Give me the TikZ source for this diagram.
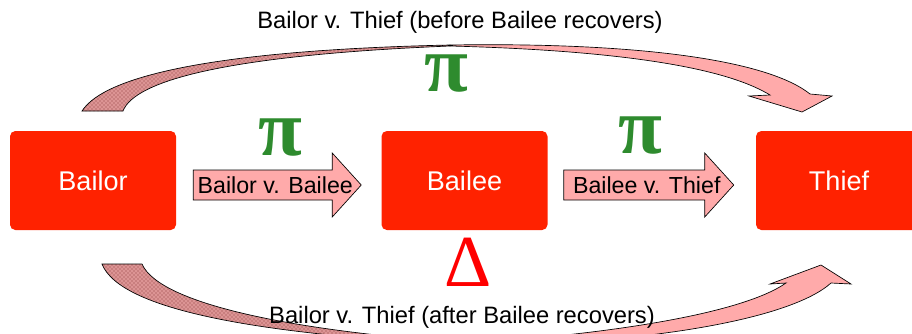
\documentclass[tikz,border=0pt]{standalone}
\usepackage{fontspec}
\setmainfont{Liberation Sans}
\newfontfamily\symbolfont{Liberation Serif}
\usetikzlibrary{calc,patterns}

\definecolor{partyred}{HTML}{FF2200}
\definecolor{arrowpink}{HTML}{FFAAAA}
\definecolor{backpink}{HTML}{DC9494}
\definecolor{backdots}{HTML}{8C3A3A}
\definecolor{pigreen}{HTML}{2E8B2E}

\tikzset{
	party/.style={fill=partyred,text=white,rounded corners=4pt,minimum width=124.5pt,
		minimum height=74.25pt,inner sep=0pt,font=\fontsize{20.3}{24}\selectfont},
	claim/.style={fill=arrowpink,draw=black,line width=0.5pt,line join=miter},
	claimtext/.style={inner sep=0pt,font=\fontsize{17.4}{20}\selectfont},
	backside/.style={draw=black,line width=0.5pt,preaction={fill=backpink},
		pattern=crosshatch dots,pattern color=backdots},
	caption/.style={inner sep=0pt,anchor=base,font=\fontsize{17.8}{21}\selectfont},
	pisign/.style={text=pigreen,inner sep=0pt,font=\symbolfont\bfseries\fontsize{60}{60}\selectfont},
	losssign/.style={text=red,inner sep=0pt,font=\symbolfont\fontsize{55}{55}\selectfont}
}

% block arrow from tail to tip: name, tail, tip, label
\newcommand{\claimarrow}[4]{%
	\coordinate (#1-t) at (#2);
	\coordinate (#1-h) at (#3);
	\draw [claim] ($(#1-t)+(0,-15)$) -- ($(#1-h)+(-29,-15)$) -- ($(#1-h)+(-29,-32)$)
		-- (#1-h) -- ($(#1-h)+(-29,32)$) -- ($(#1-h)+(-29,15)$) -- ($(#1-t)+(0,15)$) -- cycle;
	\node[claimtext] (#1) at ($(#1-t)!0.5!(#1-h)+(-2,0)$) {#4};
}

\begin{document}
\begin{tikzpicture}[x=0.75pt,y=-0.75pt]
\useasboundingbox (0,0) rectangle (912,333);
\clip (0,0) rectangle (912,333);

% the three parties
\node[party] (Bailor) at (93,180.5) {Bailor};
\node[party] (Bailee) at (464.5,180.5) {Bailee};
\node[party] (Thief) at (839,180.5) {Thief};

% direct claims
\claimarrow{BailorBailee}{$(Bailor.east)+(17,4.5)$}{$(Bailee.west)+(-20,4.5)$}{Bailor v. Bailee}
\claimarrow{BaileeThief}{$(Bailee.east)+(16,4.5)$}{$(Thief.west)+(-22,4.5)$}{Bailee v. Thief}

% curved claim over the top
\draw [backside] (82,111) .. controls (105,75) and (220,50) .. (450,45)
	-- (450,46) .. controls (230,55) and (135,80) .. (123,111) -- cycle;
\draw [claim] (450,45) .. controls (650,42) and (770,62) .. (810,94)
	-- (832,96) -- (802,112) -- (749,96) -- (770,95)
	.. controls (745,80) and (680,52) .. (450,46) -- cycle;

% curved claim under the bottom
\draw [backside] (102,264) .. controls (120,310) and (260,335) .. (470,345)
	-- (470,343) .. controls (300,332) and (160,305) .. (142,264) -- cycle;
\draw [claim] (470,343) .. controls (600,335) and (740,315) .. (786,283)
	-- (770,284) -- (821,265) -- (851,284) -- (831,283)
	.. controls (790,320) and (640,345) .. (470,345) -- cycle;

\node[caption] (before) at (460,28) {Bailor v. Thief (before Bailee recovers)};
\node[caption] (after) at (462,323) {Bailor v. Thief (after Bailee recovers)};

\foreach \x/\y [count=\i] in {446/74, 280/138, 640/136}
	{
	\node[pisign] (pi\i) at (\x,\y) {π};
	}
\node[losssign] (loss) at (468,262) {Δ};
\end{tikzpicture}
\end{document}
